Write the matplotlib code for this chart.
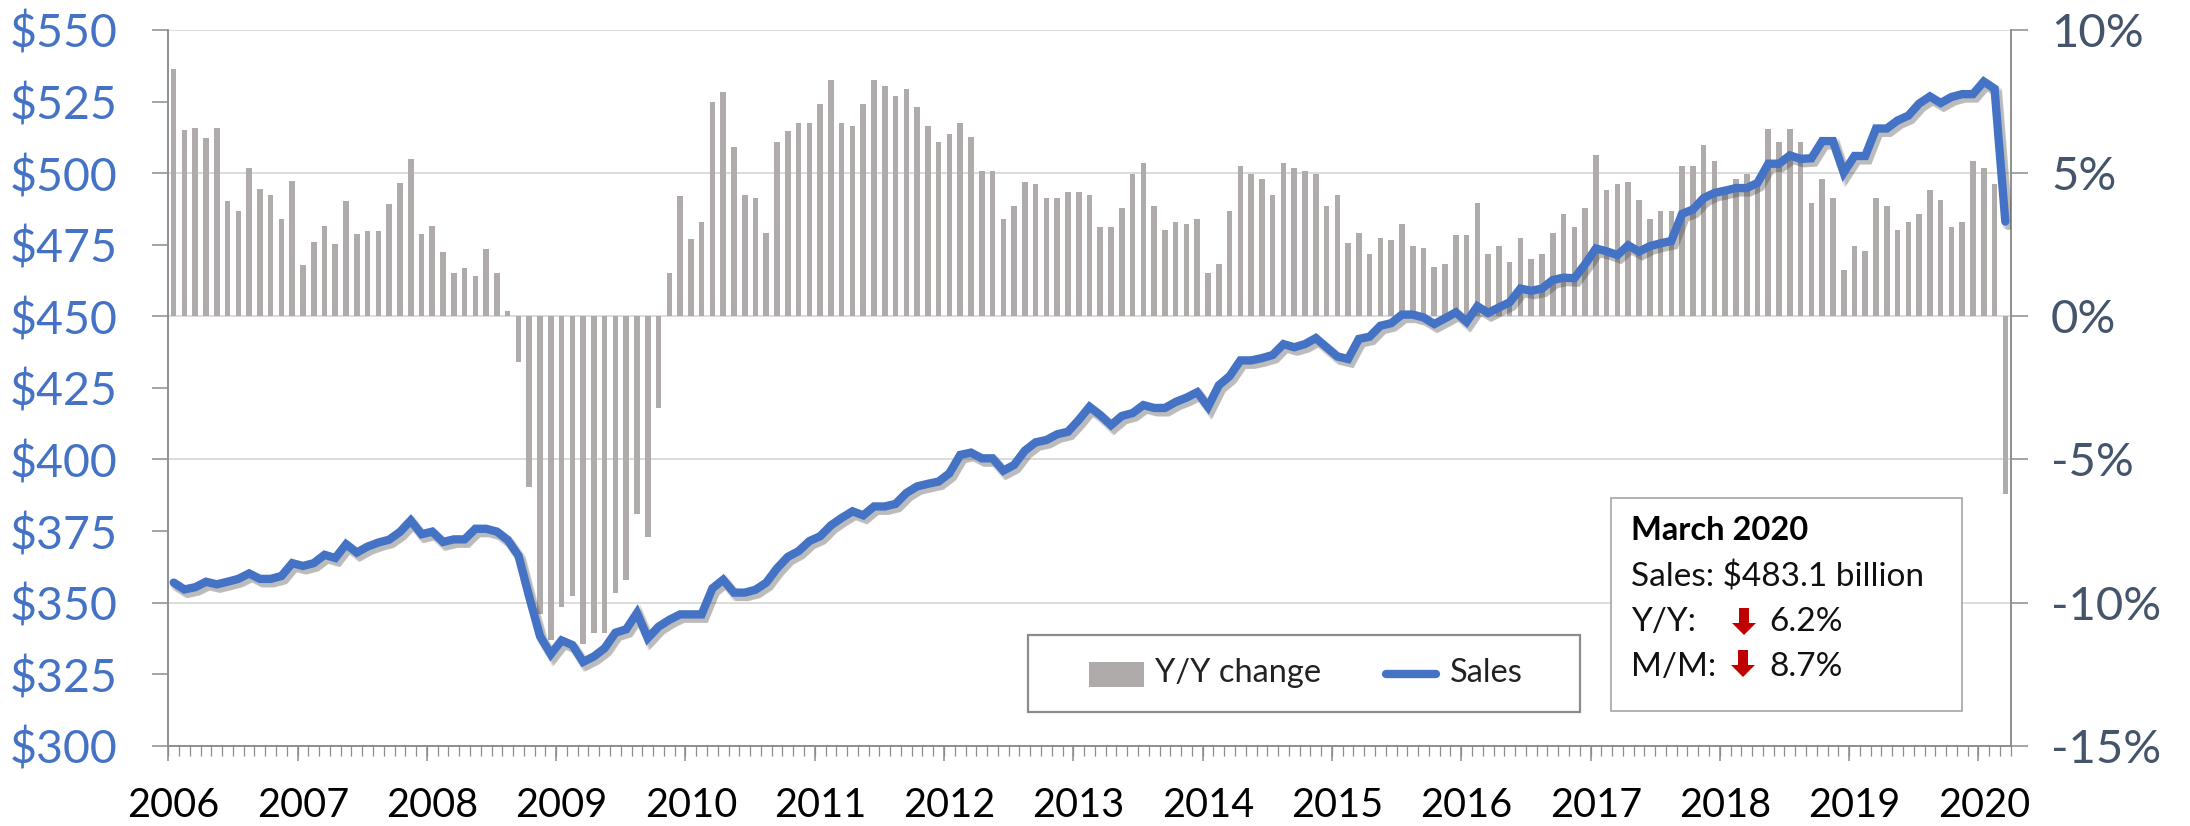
import numpy as np
import matplotlib
matplotlib.use("Agg")
import matplotlib.pyplot as plt
import matplotlib.patheffects as pe
from matplotlib.patches import Rectangle, Polygon
from matplotlib.lines import Line2D

W, H = 2190, 826

years = list(range(2006, 2021))

yoy_change = [
 8.63,6.50,6.59,6.22,6.59,4.03,3.68,5.17,4.43,4.24,3.41,4.71,
 1.80,2.60,3.16,2.52,4.03,2.88,2.98,2.98,3.92,4.67,5.50,2.88,
 3.16,2.24,1.50,1.69,1.40,2.34,1.50,0.19,-1.61,-5.96,-10.4,-11.3,
 -10.16,-9.78,-11.43,-11.05,-11.05,-9.68,-9.2,-6.9,-7.72,-3.2,1.50,4.20,
 2.69,3.31,7.49,7.85,5.90,4.23,4.13,2.92,6.09,6.46,6.74,6.74,
 7.41,8.24,6.74,6.65,7.41,8.24,8.05,7.68,7.95,7.30,6.65,6.09,
 6.37,6.74,6.28,5.08,5.08,3.40,3.86,4.70,4.61,4.14,4.14,4.33,
 4.33,4.23,3.12,3.12,3.77,4.98,5.36,3.86,3.03,3.31,3.21,3.40,
 1.53,1.81,3.69,5.26,4.98,4.79,4.23,5.36,5.17,5.08,4.98,3.86,
 4.23,2.56,2.92,2.19,2.74,2.65,3.21,2.47,2.38,1.72,1.81,2.84,
 2.84,3.96,2.19,2.47,1.91,2.74,2.01,2.19,2.92,3.58,3.12,3.77,
 5.63,4.42,4.61,4.70,4.05,3.40,3.69,3.69,5.26,5.26,6.00,5.44,
 4.43,4.79,4.98,4.66,6.55,6.09,6.55,6.09,3.96,4.79,4.14,1.62,
 2.47,2.29,4.14,3.86,3.03,3.31,3.58,4.42,4.05,3.12,3.31,5.44,
 5.17,4.61,-6.2]

sales = [
 357.0,354.6,355.4,357.3,356.4,357.3,358.3,360.2,358.3,358.3,359.3,363.8,
 362.8,363.8,366.7,365.6,370.4,367.5,369.6,371.0,372.0,374.7,378.7,373.9,
 374.8,371.2,372.1,372.1,375.8,375.8,374.8,371.9,366.4,352.0,338.3,332.0,
 336.8,335.2,329.3,331.2,334.1,339.5,340.7,346.4,337.6,341.6,344.0,345.9,
 345.9,345.9,355.0,358.0,353.5,353.5,354.5,357.0,362.0,366.0,368.0,371.5,
 373.2,377.0,379.6,381.9,380.5,383.6,383.6,384.5,388.3,390.6,391.5,392.3,
 395.2,401.6,402.4,400.4,400.4,396.1,398.1,403.1,406.0,406.8,408.8,409.7,
 413.8,418.4,415.5,412.0,415.2,416.2,419.0,418.0,418.0,420.1,421.6,423.5,
 418.4,425.9,429.1,434.6,434.6,435.4,436.5,440.3,439.2,440.3,442.4,439.2,
 436.0,435.1,442.1,442.9,446.7,447.6,450.6,450.6,449.6,447.3,449.3,451.4,
 448.1,453.5,451.2,453.1,454.9,459.7,458.9,459.7,462.7,463.5,463.3,468.2,
 473.7,472.7,471.4,474.8,472.6,474.5,475.5,476.3,485.8,487.3,491.3,493.1,
 493.9,494.8,494.8,496.6,503.3,503.3,506.2,505.0,505.2,511.2,511.2,500.2,
 506.0,506.0,515.6,515.6,518.4,520.1,524.3,526.8,524.5,526.6,527.6,527.6,
 532.0,529.5,483.1]

BLUE = "#4472C4"
BAR = "#AFABAB"
SLATE = "#44546A"
AXC = "#8C8C8C"
GRID = "#D9D9D9"
FONT = "Lato"
plt.rcParams["font.family"] = [FONT, "DejaVu Sans"]

fig = plt.figure(figsize=(W / 100, H / 100), dpi=100)
L, R, T, B = 168.3, 2010.7, 30.0, 745.8
ax = fig.add_axes([L / W, 1 - B / H, (R - L) / W, (B - T) / H])
ax2 = ax.twinx()
ax.set_zorder(ax2.get_zorder() + 1)
ax.patch.set_visible(False)

x = np.arange(len(sales))
ax2.bar(x, yoy_change, width=0.52, color=BAR, zorder=3)
ax2.set_ylim(-15, 10)
ax2.set_yticks(np.arange(-15, 11, 5))
ax2.set_yticklabels([f"{v}%" for v in range(-15, 11, 5)])
ax2.grid(axis="y", color=GRID, lw=1.3, zorder=0)
ax2.set_axisbelow(True)
ax2.tick_params(axis="y", length=12, width=1.1, color=AXC, labelcolor=SLATE,
                labelsize=34, pad=17)

shadow = [pe.SimpleLineShadow(offset=(off, -off * 1.3), shadow_color="#444444", alpha=0.10,
                              linewidth=lw)
          for off, lw in [(1.6, 8.0), (2.0, 7.0), (2.4, 6.0), (2.8, 5.0)]]
ax.plot(x, sales, color=BLUE, lw=6.0, solid_joinstyle="miter", solid_capstyle="round",
        zorder=5, path_effects=shadow + [pe.Normal()])
ax.set_ylim(300, 550)
ax.set_yticks(np.arange(300, 551, 25))
ax.set_yticklabels([f"${v}" for v in range(300, 551, 25)])
ax.yaxis.tick_left()
ax.tick_params(axis="y", length=11.5, width=1.1, color=AXC, labelcolor=BLUE,
               labelsize=33.5, pad=25)
ax.set_xlim(-0.5, len(sales) - 0.5)

jan = np.arange(0, len(sales), 12)
ax.set_xticks(jan)
ax.set_xticklabels([str(y) for y in years])
ax.tick_params(axis="x", which="major", length=0, labelsize=28.5, labelcolor="black", pad=30)
ax.set_xticks(np.arange(len(sales) + 1) - 0.5, minor=True)
ax.tick_params(axis="x", which="minor", length=7.5, width=0.9, color=AXC)
sec = ax.secondary_xaxis("bottom")
sec.set_xticks(jan - 0.5)
sec.set_xticklabels([])
sec.tick_params(axis="x", length=10.5, width=1.1, color=AXC)
sec.spines["bottom"].set_visible(False)

for a in (ax, ax2):
    a.spines["top"].set_visible(False)
    for s in ("left", "right", "bottom"):
        a.spines[s].set_color(AXC)
        a.spines[s].set_linewidth(1.1)

def px_rect(x0, y0, x1, y1, **kw):
    return Rectangle((x0 / W, 1 - y1 / H), (x1 - x0) / W, (y1 - y0) / H,
                     transform=fig.transFigure, **kw)

def txt(xp, yp, s, **kw):
    fig.text(xp / W, 1 - yp / H, s, va="center", ha="left", **kw)

# legend box
fig.add_artist(px_rect(1028, 635, 1580, 712, fc="white", ec="#8C8C8C", lw=1.6, zorder=10))
fig.add_artist(px_rect(1089, 662, 1144, 687, fc=BAR, ec="none", zorder=11))
fig.add_artist(Line2D([1386 / W, 1436 / W], [1 - 674 / H] * 2, color=BLUE, lw=6,
                      solid_capstyle="round", zorder=11))
txt(1155, 673, "Y/Y change", fontsize=23.5, color="#222222", zorder=11)
txt(1450, 673, "Sales", fontsize=23.5, color="#222222", zorder=11)

# annotation box
fig.add_artist(px_rect(1611, 498, 1962, 711, fc="white", ec="#A6A6A6", lw=1.2, zorder=10))
txt(1631, 530, "March 2020", fontsize=23.5, fontweight="bold", color="black", zorder=11)
txt(1631, 577, "Sales: $483.1 billion", fontsize=24, color="#111111", zorder=11)
txt(1631, 622, "Y/Y:", fontsize=24, color="#111111", zorder=11)
txt(1769, 622, "6.2%", fontsize=24, color="#111111", zorder=11)
txt(1631, 667, "M/M:", fontsize=24, color="#111111", zorder=11)
txt(1769, 667, "8.7%", fontsize=24, color="#111111", zorder=11)
for xa, y0, y1 in [(1744, 608, 635), (1743, 650, 677)]:
    pts = [(xa - 5, y0), (xa + 5, y0), (xa + 5, y1 - 12), (xa + 12, y1 - 12), (xa, y1),
           (xa - 12, y1 - 12), (xa - 5, y1 - 12)]
    fig.add_artist(Polygon([(px / W, 1 - py / H) for px, py in pts], closed=True,
                           fc="#C00000", ec="none", transform=fig.transFigure, zorder=11))

fig.savefig("out.png", dpi=100)
